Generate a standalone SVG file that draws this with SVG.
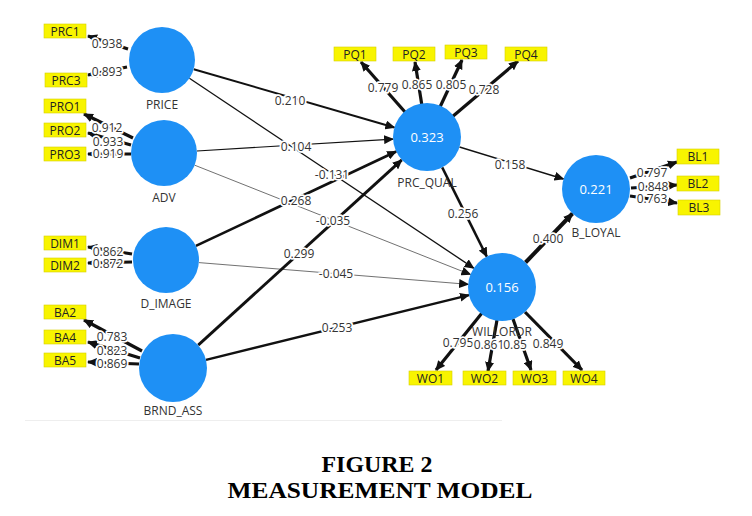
<svg xmlns="http://www.w3.org/2000/svg" width="752" height="516" viewBox="0 0 752 516">
<style>
.lv{fill:#1e90f5}
.nl{font-family:"Open Sans","Noto Sans",sans-serif;font-size:12px;fill:#333;text-anchor:middle}
.val{font-family:"Open Sans","Noto Sans",sans-serif;font-size:13px;fill:#fff;text-anchor:middle}
.ind rect{fill:#f8f400;stroke:#d6cf00;stroke-width:0.6}
.ind text{font-family:"Open Sans","Noto Sans",sans-serif;font-size:12px;fill:#222;text-anchor:middle}
.ld{stroke:#111;stroke-width:3.2;fill:none;marker-end:url(#ah)}
.sp{stroke:#111;fill:none;marker-end:url(#ah)}
.lb{font-family:"Open Sans","Noto Sans",sans-serif;font-size:12px;fill:#333;text-anchor:middle;stroke:#fff;stroke-width:3.5;paint-order:stroke;stroke-linejoin:round}
.cap{font-family:"Liberation Serif","Times New Roman",serif;font-weight:bold;font-size:23px;fill:#000;text-anchor:middle}
</style>
<defs>
<marker id="ah" markerUnits="userSpaceOnUse" markerWidth="10" markerHeight="9" refX="9" refY="4.5" orient="auto">
<path d="M0,0 L10,4.5 L0,9 z" fill="#111"/>
</marker>
</defs>
<rect width="752" height="516" fill="#fff"/>
<line x1="25" y1="420.5" x2="502" y2="420.5" stroke="#eeeeee" stroke-width="1"/>

<g id="connectors">
<!-- structural paths -->
<line class="sp" x1="193.7" y1="69.2" x2="394.4" y2="127.5" stroke-width="2"/>
<line class="sp" x1="189.4" y1="78.3" x2="473.7" y2="268.1" stroke-width="1.3"/>
<line class="sp" x1="196.9" y1="151" x2="393.1" y2="139.1" stroke-width="1.1"/>
<line class="sp" x1="194.7" y1="165.2" x2="470.4" y2="274.5" stroke-width="0.6" stroke="#777"/>
<line class="sp" x1="195.9" y1="245.9" x2="396.2" y2="151.5" stroke-width="2.6"/>
<line class="sp" x1="198.9" y1="262.6" x2="468.1" y2="284.3" stroke-width="0.6" stroke="#777"/>
<line class="sp" x1="198.2" y1="345.1" x2="401.8" y2="159.9" stroke-width="2.9"/>
<line class="sp" x1="206" y1="359.9" x2="469" y2="295.1" stroke-width="2.5"/>
<line class="sp" x1="459.5" y1="147" x2="563.5" y2="179" stroke-width="1.5"/>
<line class="sp" x1="442.2" y1="167.4" x2="486.8" y2="256.6" stroke-width="2.5"/>
<line class="sp" x1="525.5" y1="262.5" x2="572.5" y2="213.5" stroke-width="4"/>
<!-- loadings -->
<line class="ld" x1="128" y1="49" x2="88" y2="36"/>
<line class="ld" x1="127" y1="67" x2="88" y2="75"/>
<line class="ld" x1="133" y1="138" x2="84" y2="114"/>
<line class="ld" x1="131" y1="145" x2="88" y2="133"/>
<line class="ld" x1="131" y1="154" x2="88" y2="154"/>
<line class="ld" x1="132" y1="254" x2="88" y2="247"/>
<line class="ld" x1="132" y1="262" x2="88" y2="263"/>
<line class="ld" x1="142" y1="351" x2="84" y2="320"/>
<line class="ld" x1="140" y1="358" x2="88" y2="342"/>
<line class="ld" x1="139" y1="364" x2="88" y2="362"/>
<line class="ld" x1="405" y1="112" x2="361" y2="62"/>
<line class="ld" x1="422" y1="106" x2="415" y2="62"/>
<line class="ld" x1="440" y1="107" x2="462" y2="60"/>
<line class="ld" x1="452" y1="117" x2="518" y2="61"/>
<line class="ld" x1="482" y1="313" x2="436" y2="370"/>
<line class="ld" x1="497" y1="320" x2="488" y2="371"/>
<line class="ld" x1="513" y1="319" x2="531" y2="370"/>
<line class="ld" x1="525" y1="312" x2="582" y2="370"/>
<line class="ld" x1="630" y1="178" x2="677" y2="162"/>
<line class="ld" x1="631" y1="188" x2="677" y2="185"/>
<line class="ld" x1="630" y1="196" x2="677" y2="203"/>
</g>

<g id="PRICE"><circle class="lv" cx="162" cy="60" r="33"/><text class="nl" x="162" y="109">PRICE</text></g>
<g id="ADV"><circle class="lv" cx="164" cy="153" r="33"/><text class="nl" x="164" y="202">ADV</text></g>
<g id="D_IMAGE"><circle class="lv" cx="166" cy="260" r="33"/><text class="nl" x="166" y="308">D_IMAGE</text></g>
<g id="BRND_ASS"><circle class="lv" cx="173" cy="368" r="34"/><text class="nl" x="173" y="415">BRND_ASS</text></g>
<g id="PRC_QUAL"><circle class="lv" cx="427" cy="137" r="34"/><text class="val" x="427" y="142">0.323</text><text class="nl" x="427" y="187">PRC_QUAL</text></g>
<g id="WILLORDR"><circle class="lv" cx="502" cy="287" r="34"/><text class="val" x="502" y="292">0.156</text><text class="nl" x="502" y="336">WILLORDR</text></g>
<g id="B_LOYAL"><circle class="lv" cx="596" cy="189" r="34"/><text class="val" x="596" y="194">0.221</text><text class="nl" x="596" y="237">B_LOYAL</text></g>

<g id="PRC1" class="ind"><rect x="44" y="24" width="42" height="14"/><text x="65" y="35.5">PRC1</text></g>
<g id="PRC3" class="ind"><rect x="45" y="73" width="42" height="14"/><text x="66" y="84.5">PRC3</text></g>
<g id="PRO1" class="ind"><rect x="44" y="99" width="42" height="14"/><text x="65" y="110.5">PRO1</text></g>
<g id="PRO2" class="ind"><rect x="44" y="123" width="42" height="14"/><text x="65" y="134.5">PRO2</text></g>
<g id="PRO3" class="ind"><rect x="44" y="147" width="42" height="14"/><text x="65" y="158.5">PRO3</text></g>
<g id="DIM1" class="ind"><rect x="44" y="236" width="42" height="14"/><text x="65" y="247.5">DIM1</text></g>
<g id="DIM2" class="ind"><rect x="44" y="258" width="42" height="14"/><text x="65" y="269.5">DIM2</text></g>
<g id="BA2" class="ind"><rect x="44" y="305" width="42" height="14"/><text x="65" y="316.5">BA2</text></g>
<g id="BA4" class="ind"><rect x="44" y="330" width="42" height="14"/><text x="65" y="341.5">BA4</text></g>
<g id="BA5" class="ind"><rect x="44" y="353" width="42" height="14"/><text x="65" y="364.5">BA5</text></g>
<g id="PQ1" class="ind"><rect x="334" y="47" width="42" height="14"/><text x="355" y="58.5">PQ1</text></g>
<g id="PQ2" class="ind"><rect x="393" y="47" width="42" height="14"/><text x="414" y="58.5">PQ2</text></g>
<g id="PQ3" class="ind"><rect x="445" y="45" width="42" height="14"/><text x="466" y="56.5">PQ3</text></g>
<g id="PQ4" class="ind"><rect x="505" y="47" width="42" height="14"/><text x="526" y="58.5">PQ4</text></g>
<g id="BL1" class="ind"><rect x="677" y="149" width="42" height="15"/><text x="698" y="161">BL1</text></g>
<g id="BL2" class="ind"><rect x="677" y="176" width="42" height="15"/><text x="698" y="188">BL2</text></g>
<g id="BL3" class="ind"><rect x="678" y="200" width="42" height="15"/><text x="699" y="212">BL3</text></g>
<g id="WO1" class="ind"><rect x="409" y="371" width="43" height="14"/><text x="430.5" y="382.5">WO1</text></g>
<g id="WO2" class="ind"><rect x="463" y="371" width="43" height="14"/><text x="484.5" y="382.5">WO2</text></g>
<g id="WO3" class="ind"><rect x="513" y="371" width="43" height="14"/><text x="534.5" y="382.5">WO3</text></g>
<g id="WO4" class="ind"><rect x="563" y="371" width="42" height="14"/><text x="584" y="382.5">WO4</text></g>

<g id="labels">
<text class="lb" x="290" y="105">0.210</text>
<text class="lb" x="296" y="151">0.104</text>
<text class="lb" x="332" y="179">-0.131</text>
<text class="lb" x="296" y="205">0.268</text>
<text class="lb" x="333" y="225">-0.035</text>
<text class="lb" x="299" y="258">0.299</text>
<text class="lb" x="336" y="278">-0.045</text>
<text class="lb" x="337" y="332">0.253</text>
<text class="lb" x="510" y="169">0.158</text>
<text class="lb" x="463" y="218">0.256</text>
<text class="lb" x="548" y="243">0.400</text>
<text class="lb" x="107" y="48">0.938</text>
<text class="lb" x="107" y="76">0.893</text>
<text class="lb" x="107" y="132">0.912</text>
<text class="lb" x="108" y="146">0.933</text>
<text class="lb" x="108" y="158">0.919</text>
<text class="lb" x="108" y="256">0.862</text>
<text class="lb" x="108" y="268">0.872</text>
<text class="lb" x="112" y="341">0.783</text>
<text class="lb" x="112" y="355">0.823</text>
<text class="lb" x="112" y="368">0.869</text>
<text class="lb" x="383" y="92">0.779</text>
<text class="lb" x="417" y="89">0.865</text>
<text class="lb" x="451" y="89">0.805</text>
<text class="lb" x="484" y="94">0.728</text>
<text class="lb" x="458" y="347">0.795</text>
<text class="lb" x="489" y="349">0.861</text>
<text class="lb" x="515" y="349">0.85</text>
<text class="lb" x="548" y="348">0.849</text>
<text class="lb" x="652" y="177">0.797</text>
<text class="lb" x="653" y="191">0.848</text>
<text class="lb" x="652" y="203">0.763</text>
</g>

<text class="cap" x="377" y="472" textLength="111" lengthAdjust="spacingAndGlyphs">FIGURE 2</text>
<text class="cap" x="380" y="498" textLength="305" lengthAdjust="spacingAndGlyphs">MEASUREMENT MODEL</text>
</svg>
